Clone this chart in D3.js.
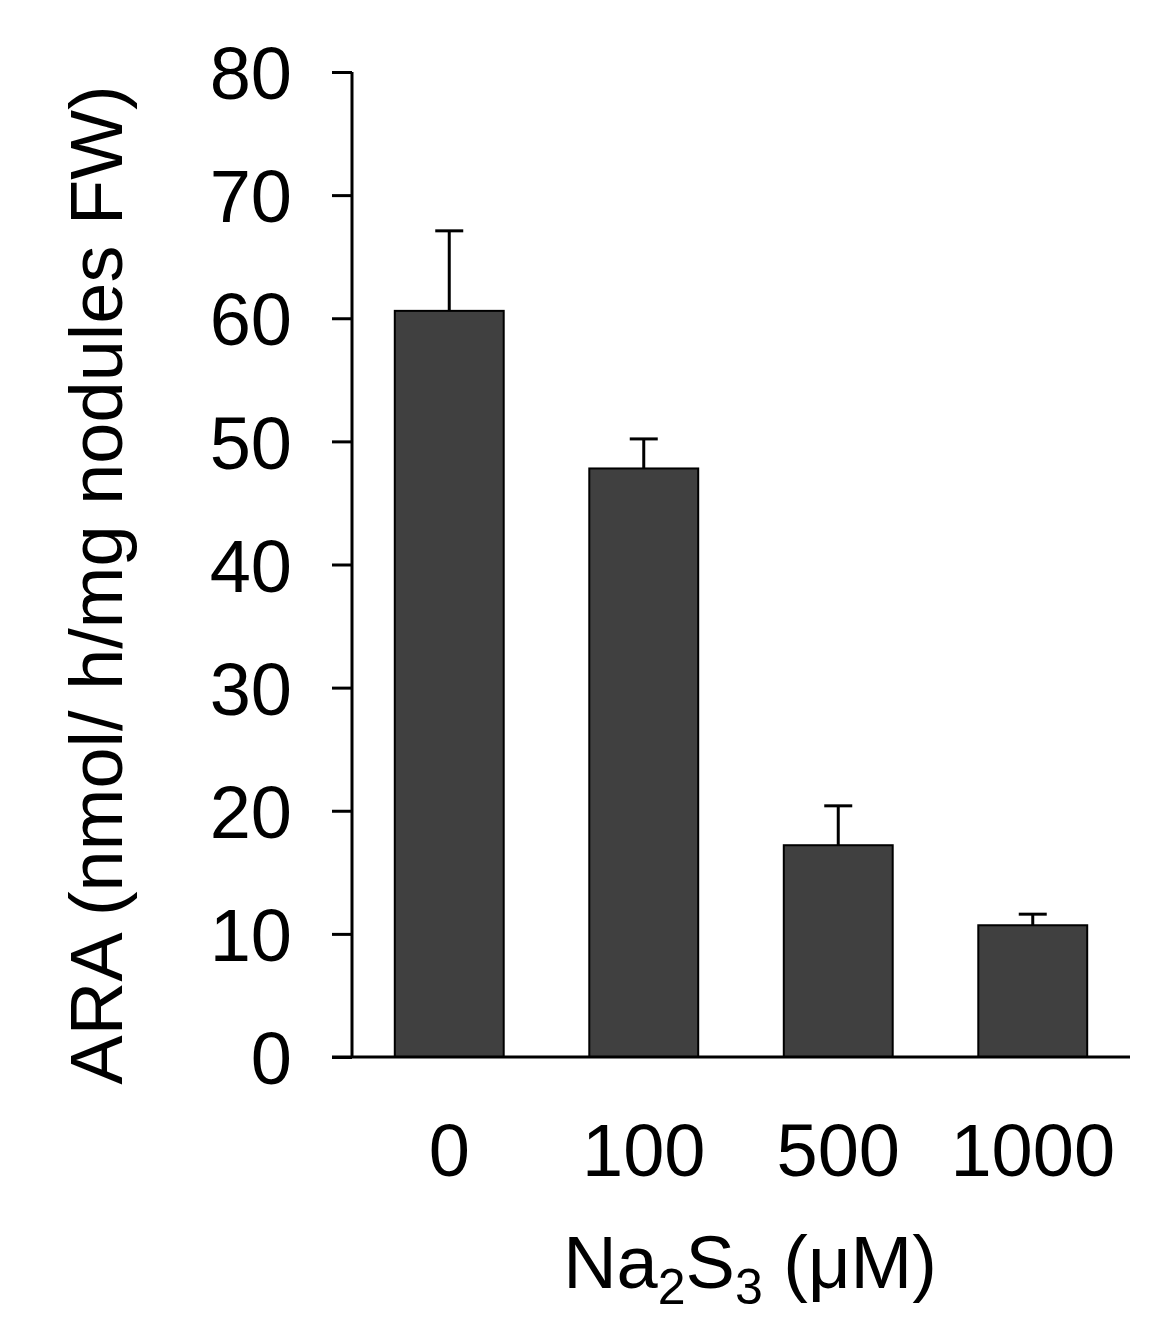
<!DOCTYPE html>
<html><head><meta charset="utf-8">
<script src="https://cdn.jsdelivr.net/npm/d3@7"></script>
<style>body{margin:0;background:#fff}</style></head>
<body><svg id="c" width="1165" height="1342"></svg>
<script>
const categories = ["0","100","500","1000"];
const values = [60.6, 47.8, 17.2, 10.7];
const errors = [6.5, 2.4, 3.2, 0.9];
const yTicks = [0,10,20,30,40,50,60,70,80];

const svg = d3.select("#c");
const font = "Liberation Sans, Arial, sans-serif";
const x = d3.scaleBand().domain(categories).range([352,1130]).paddingInner(0.44).paddingOuter(0.22);
const y = d3.scaleLinear().domain([0,80]).range([1057,72]);

const g = svg.append("g");
g.selectAll("rect.bar").data(values).join("rect")
 .attr("x",(d,i)=>x(categories[i])).attr("width",x.bandwidth())
 .attr("y",d=>y(d)).attr("height",d=>y(0)-y(d))
 .attr("fill","#404040").attr("stroke","#000").attr("stroke-width",2);
values.forEach((v,i)=>{
  const cx = x(categories[i])+x.bandwidth()/2;
  g.append("line").attr("x1",cx).attr("x2",cx).attr("y1",y(v)).attr("y2",y(v+errors[i])).attr("stroke","#000").attr("stroke-width",3);
  g.append("line").attr("x1",cx-14).attr("x2",cx+14).attr("y1",y(v+errors[i])).attr("y2",y(v+errors[i])).attr("stroke","#000").attr("stroke-width",3);
});
const ya = svg.append("g").attr("transform","translate(352,0)")
 .call(d3.axisLeft(y).tickValues(yTicks).tickSize(20).tickPadding(40).tickFormat(d3.format("d")));
ya.select(".domain").attr("stroke-width",3).attr("d","M0,72V1057");
ya.selectAll(".tick line").attr("stroke-width",3);
ya.selectAll("text").attr("font-family",font).attr("font-size",74).attr("fill","#000").attr("dy","0.36em");
svg.append("line").attr("x1",332).attr("x2",1130).attr("y1",1057).attr("y2",1057).attr("stroke","#000").attr("stroke-width",3);
const xa = svg.append("g").attr("transform","translate(0,1057)")
 .call(d3.axisBottom(x).tickSize(0).tickPadding(66));
xa.select(".domain").remove();
xa.selectAll("text").attr("font-family",font).attr("font-size",74).attr("fill","#000");
svg.append("text").attr("transform","translate(122,585) rotate(-90)").attr("text-anchor","middle")
 .attr("font-family",font).attr("font-size",74).text("ARA (nmol/ h/mg nodules FW)");
const t = svg.append("text").attr("x",750).attr("y",1288).attr("text-anchor","middle")
 .attr("font-family",font).attr("font-size",74);
t.append("tspan").text("Na");
t.append("tspan").attr("font-size",50).attr("dy",16).text("2");
t.append("tspan").attr("dy",-16).text("S");
t.append("tspan").attr("font-size",50).attr("dy",16).text("3");
t.append("tspan").attr("dy",-16).text(" (μM)");
</script></body></html>
